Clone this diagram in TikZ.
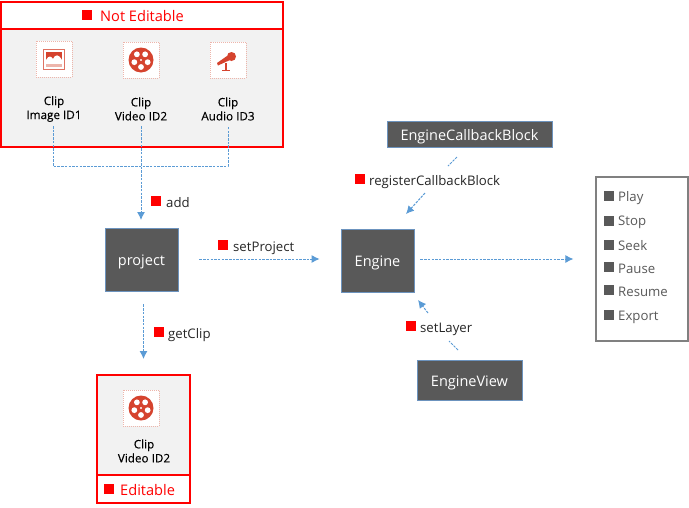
\documentclass[tikz,border=0pt]{standalone}
\usepackage{fontspec}
\setmainfont{Open Sans}
\usetikzlibrary{arrows.meta}
\definecolor{boxgray}{HTML}{595959}
\definecolor{paneblue}{HTML}{6C93BE}
\definecolor{flowblue}{HTML}{5B9BD5}
\definecolor{panegray}{HTML}{F2F2F2}
\definecolor{iconred}{HTML}{D5432E}
\definecolor{iconpink}{HTML}{EDB5AB}
\tikzset{
    darkbox/.style={draw=paneblue, line width=0.8pt, fill=boxgray, text=white, inner sep=0pt, text height=12pt, text depth=0pt, font=\fontsize{14.5}{14.5}\selectfont},
    redbox/.style={draw=red, line width=2pt, inner sep=0pt},
    clipnote/.style={align=center, inner sep=0pt, text=black, font=\fontsize{11.7}{14}\selectfont\addfontfeature{FakeBold=0.2}},
    redmark/.style={fill=red, minimum size=10pt, inner sep=0pt},
    graymark/.style={fill=boxgray, minimum size=10pt, inner sep=0pt},
    marktext/.style={anchor=west, inner sep=0pt, text=black!85, font=\fontsize{13.2}{14}\selectfont},
    menutext/.style={anchor=west, inner sep=0pt, text=boxgray, font=\fontsize{13.2}{14}\selectfont},
    redtext/.style={anchor=west, inner sep=0pt, text=red, font=\fontsize{14.6}{14.6}\selectfont},
    flow/.style={draw=flowblue, line width=1pt, dash pattern=on 2.5pt off 1.2pt, -{Latex[length=8pt, width=8pt]}},
    flowplain/.style={draw=flowblue, line width=1pt, dash pattern=on 2.5pt off 1.2pt},
    pics/iconframe/.style={code={
        \draw[iconpink, fill=white, line width=1pt, dash pattern=on 1pt off 1pt] (-18,-18) rectangle (18,18);
    }},
    pics/reelicon/.style={code={
        \pic {iconframe};
        \fill[iconred] (0,0) circle (12.5);
        \foreach \a in {90,162,234,306,18} {
            \fill[white] (\a:7) circle (2.9);
        }
        \fill[white] (0,0) circle (1.2);
    }},
    pics/imageicon/.style={code={
        \pic {iconframe};
        \draw[iconred!75, fill=white, line width=1pt] (-10.5,-10) rectangle (10.5,10);
        \fill[iconred] (-8,-7.5) rectangle (8,4);
        \fill[white] (-8,5) -- (-8,1) .. controls (-5,-4) and (-3,-3) .. (-1,0) .. controls (1,-5) and (5,-5) .. (8,1) -- (8,5) -- cycle;
        \fill[iconpink] (-8,5) rectangle (8,8);
    }},
    pics/micicon/.style={code={
        \pic {iconframe};
        \fill[iconred] (-11,3) -- (-10,5.5) -- (2,0) -- (-1,-4) -- cycle;
        \fill[iconred] (3.5,-3.5) circle (4.5);
        \draw[iconred, line width=1.3pt] (-2,3) -- (-2,10);
        \draw[iconred, line width=1.3pt] (-6,10.5) -- (2,10.5);
    }},
}
\begin{document}
\begin{tikzpicture}[x=1pt, y=-1pt]
    \useasboundingbox (0,0) rectangle (689,507);

    % not editable pane
    \node[redbox, fill=panegray, minimum width=282pt, minimum height=118pt] (clipPane) at (141.5,87.5) {};
    \node[redbox, fill=white, minimum width=282pt, minimum height=27pt] (clipHead) at (141.5,15) {};
    \node[redmark] (headMark) at (87,15) {};
    \node[redtext] (headText) at (100,16) {Not Editable};
    \pic at (54,59) {imageicon};
    \pic at (141,60) {reelicon};
    \pic at (228,60) {micicon};
    \node[clipnote] (imageClip) at (54,109) {Clip\\Image ID1};
    \node[clipnote] (videoClip) at (141,109) {Clip\\Video ID2};
    \node[clipnote] (audioClip) at (228,109) {Clip\\Audio ID3};

    % dark boxes
    \node[darkbox, minimum width=73pt, minimum height=63pt] (project) at (141.5,259.5) {project};
    \node[darkbox, minimum width=73pt, minimum height=63pt] (engine) at (377.5,260.5) {Engine};
    \node[darkbox, minimum width=165pt, minimum height=26pt] (callback) at (469.5,134) {EngineCallbackBlock};
    \node[darkbox, minimum width=105pt, minimum height=40pt] (engineView) at (469.5,380) {EngineView};

    % editable pane
    \node[redbox, fill=panegray, minimum width=93pt, minimum height=100pt] (editPane) at (143.5,425) {};
    \node[redbox, fill=white, minimum width=93pt, minimum height=28pt] (editFoot) at (143.5,489) {};
    \pic at (141,408) {reelicon};
    \node[clipnote] (editClip) at (144,451) {Clip\\Video ID2};
    \node[redmark] (editMark) at (108.5,489) {};
    \node[redtext] (editText) at (120,490) {Editable};

    % method list
    \node[draw=black!50, line width=1.2pt, fill=white, minimum width=92pt, minimum height=164pt, inner sep=0pt] (menu) at (642,259) {};
    \foreach \name/\label/\y/\t in {play/Play/196/198, stop/Stop/221/222, seek/Seek/245/246, pause/Pause/267/269, resume/Resume/290/292, export/Export/315/317} {
        \node[graymark] (\name Mark) at (609,\y) {};
        \node[menutext] (\name Text) at (618,\t) {\label};
    }

    % labels
    \node[redmark] (addMark) at (156,201) {};
    \node[marktext] (addText) at (166,203) {add};
    \node[redmark] (setProjectMark) at (223,245) {};
    \node[marktext] (setProjectText) at (233,248) {setProject};
    \node[redmark] (getClipMark) at (159,332) {};
    \node[marktext] (getClipText) at (168,335) {getClip};
    \node[redmark] (registerMark) at (360,179) {};
    \node[marktext] (registerText) at (369,182) {registerCallbackBlock};
    \node[redmark] (setLayerMark) at (410.5,326) {};
    \node[marktext] (setLayerText) at (420,329) {setLayer};

    % free ends
    \coordinate (imageEnd) at (53,126);
    \coordinate (videoEnd) at (141,126);
    \coordinate (audioEnd) at (228,126);
    \coordinate (joinLeft) at (53,166);
    \coordinate (joinRight) at (228,166);
    \coordinate (addEnd) at (141,220);
    \coordinate (callbackEnd) at (457,157);
    \coordinate (callbackGap) at (448,166);
    \coordinate (registerEnd) at (425,193);
    \coordinate (engineTop) at (406,214);
    \coordinate (viewEnd) at (458,350);
    \coordinate (viewGap) at (449,341);
    \coordinate (layerEnd) at (428,313);
    \coordinate (engineLow) at (418,300);

    % connectors
    \draw[flowplain] (imageEnd) -- (joinLeft) -- (joinRight) -- (audioEnd);
    \draw[flow] (videoEnd) -- (addEnd);
    \draw[flow, shorten <=21pt, shorten >=21pt] (project.east |- 0,259) -- (engine.west |- 0,259);
    \draw[flow, shorten <=13pt, shorten >=15pt] (editPane.north |- project.south) -- (editPane.north);
    \draw[flow, shorten <=6pt, shorten >=22pt] (engine.east |- 0,259) -- (menu.west |- 0,259);
    \draw[flowplain] (callbackEnd) -- (callbackGap);
    \draw[flow] (registerEnd) -- (engineTop);
    \draw[flowplain] (viewEnd) -- (viewGap);
    \draw[flow] (layerEnd) -- (engineLow);
\end{tikzpicture}
\end{document}
